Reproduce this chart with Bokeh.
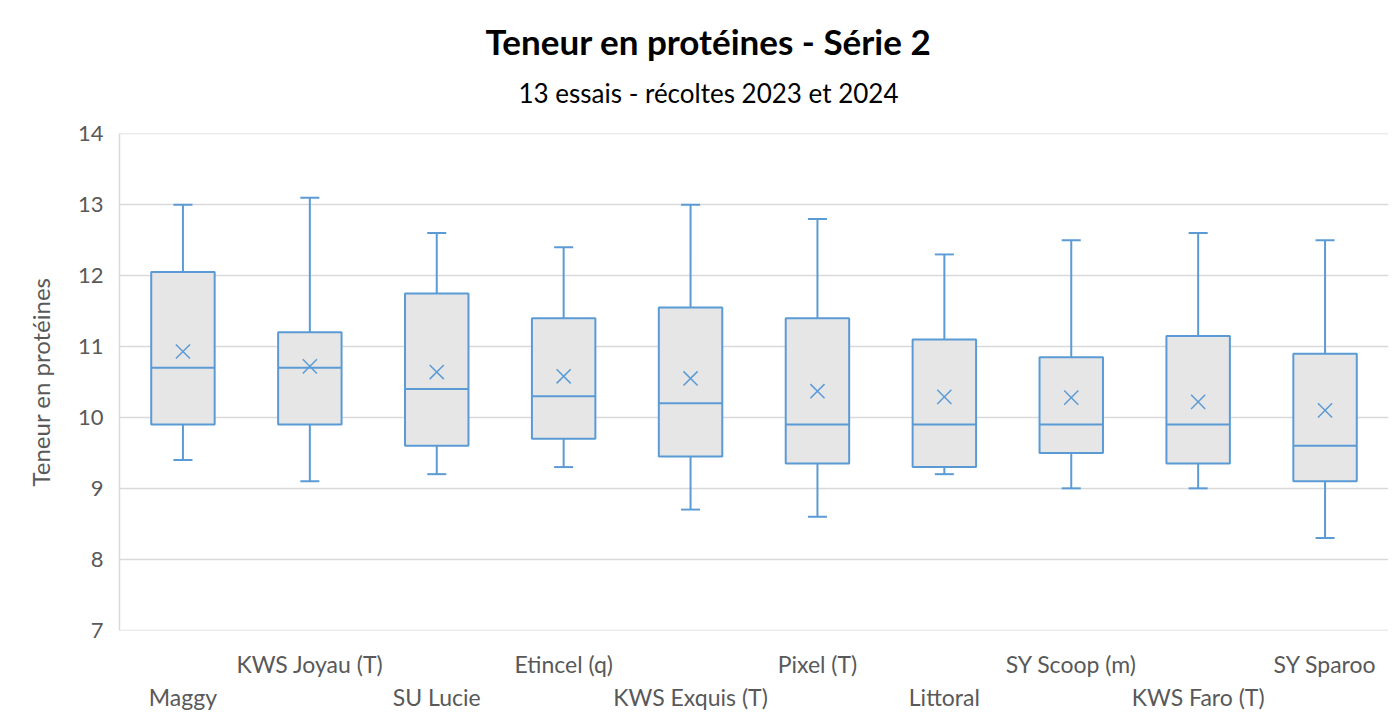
from bokeh.plotting import figure
from bokeh.models import Range1d, LinearAxis, FixedTicker, Title
from bokeh.embed import file_html
from bokeh.resources import INLINE

varieties = ["Maggy", "KWS Joyau (T)", "SU Lucie", "Etincel (q)", "KWS Exquis (T)",
             "Pixel (T)", "Littoral", "SY Scoop (m)", "KWS Faro (T)", "SY Sparoo"]
maxs    = [13.0, 13.1, 12.6, 12.4, 13.0, 12.8, 12.3, 12.5, 12.6, 12.5]
q3s     = [12.05, 11.2, 11.75, 11.4, 11.55, 11.4, 11.1, 10.85, 11.15, 10.9]
medians = [10.7, 10.7, 10.4, 10.3, 10.2, 9.9, 9.9, 9.9, 9.9, 9.6]
means   = [10.93, 10.72, 10.64, 10.58, 10.55, 10.37, 10.29, 10.28, 10.22, 10.1]
q1s     = [9.9, 9.9, 9.6, 9.7, 9.45, 9.35, 9.3, 9.5, 9.35, 9.1]
mins    = [9.4, 9.1, 9.2, 9.3, 8.7, 8.6, 9.2, 9.0, 9.0, 8.3]
y_ticks = [7, 8, 9, 10, 11, 12, 13, 14]

FONT = "Lato"
BLUE = "#5B9BD5"
GRAY_TXT = "#595959"

idx = list(range(len(varieties)))
box_w = 0.5
cap_w = 0.15

p = figure(width=1396, height=722, output_backend="svg", toolbar_location=None,
           x_range=Range1d(-0.5, len(varieties) - 0.5), y_range=Range1d(6.995, 14.005),
           x_axis_location=None, min_border_left=119, min_border_right=8,
           min_border_top=133, min_border_bottom=92)
p.outline_line_color = None
p.background_fill_color = "white"
p.border_fill_color = "white"

# grid & y axis
p.xgrid.visible = False
p.ygrid.ticker = FixedTicker(ticks=y_ticks)
p.ygrid.grid_line_color = "#d9d9d9"
p.ygrid.grid_line_width = 1.5
ya = p.yaxis[0]
ya.ticker = FixedTicker(ticks=y_ticks)
ya.axis_line_color = "#d9d9d9"
ya.axis_line_width = 1.5
ya.major_tick_line_color = None
ya.minor_tick_line_color = None
ya.major_tick_out = 0
ya.major_label_standoff = 16
ya.major_label_text_font = FONT
ya.major_label_text_font_size = "22px"
ya.major_label_text_color = GRAY_TXT
ya.axis_label = "Teneur en protéines"
ya.axis_label_text_font = FONT
ya.axis_label_text_font_size = "24px"
ya.axis_label_text_font_style = "normal"
ya.axis_label_text_color = GRAY_TXT
ya.axis_label_standoff = 20

# two rows of category labels
def make_axis(ticks, standoff):
    ax = LinearAxis(ticker=FixedTicker(ticks=ticks),
                    major_label_overrides={i: varieties[i] for i in ticks})
    ax.axis_line_color = None
    ax.major_tick_line_color = None
    ax.minor_tick_line_color = None
    ax.major_tick_out = 0
    ax.major_tick_in = 0
    ax.major_label_standoff = standoff
    ax.major_label_text_font = FONT
    ax.major_label_text_font_size = "23px"
    ax.major_label_text_color = GRAY_TXT
    return ax

p.add_layout(make_axis([i for i in idx if i % 2 == 1], 19), "below")
p.add_layout(make_axis([i for i in idx if i % 2 == 0], 2), "below")

# whiskers
p.segment(x0=idx, y0=q3s, x1=idx, y1=maxs, line_color=BLUE, line_width=2)
p.segment(x0=idx, y0=q1s, x1=idx, y1=mins, line_color=BLUE, line_width=2)
p.segment(x0=[i - cap_w / 2 for i in idx], y0=maxs, x1=[i + cap_w / 2 for i in idx], y1=maxs,
          line_color=BLUE, line_width=2)
p.segment(x0=[i - cap_w / 2 for i in idx], y0=mins, x1=[i + cap_w / 2 for i in idx], y1=mins,
          line_color=BLUE, line_width=2)
# boxes
p.vbar(x=idx, width=box_w, bottom=q1s, top=q3s, fill_color="#E6E6E6",
       line_color=BLUE, line_width=2)
# medians
p.segment(x0=[i - box_w / 2 for i in idx], y0=medians, x1=[i + box_w / 2 for i in idx], y1=medians,
          line_color=BLUE, line_width=2)
# means
p.scatter(x=idx, y=means, marker="x", size=20, line_color=BLUE, line_width=1.5)

# titles
sub = Title(text="13 essais - récoltes 2023 et 2024", align="left", offset=399,
            text_font=FONT, text_font_size="26px", text_font_style="normal",
            text_color="black", standoff=50, text_line_height=0.7)
p.add_layout(sub, "above")
main = Title(text="Teneur en protéines - Série 2", align="left", offset=366,
             text_font=FONT, text_font_size="35px", text_font_style="bold",
             text_color="black", standoff=-25)
p.add_layout(main, "above")

open("out.html", "w").write(file_html(p, INLINE))
